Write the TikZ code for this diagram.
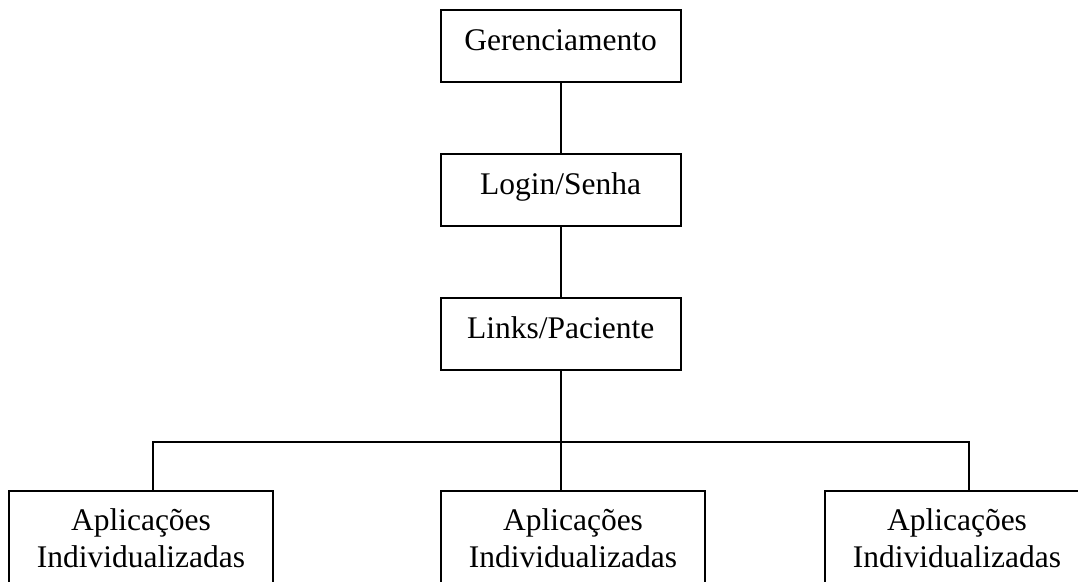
\documentclass[tikz,border=0pt]{standalone}
\usepackage{fontspec}
\setmainfont{Liberation Serif}
\begin{document}
\begin{tikzpicture}[x=1pt,y=-1pt,
  topbox/.style={draw, line width=1.8pt, minimum width=240pt, minimum height=72pt,
    inner sep=0pt, text height=22pt, text depth=13pt,
    font=\fontsize{31.5}{36.7}\selectfont},
  appbox/.style={draw, line width=1.8pt, anchor=north, inner sep=0pt,
    text width=264pt, align=center, text height=40pt, text depth=56pt,
    font=\fontsize{31.5}{36.7}\selectfont},
  link/.style={line width=1.8pt}]
\useasboundingbox (0,0) rectangle (1078,581);
\clip (0,0) rectangle (1078,581);
\node[topbox] (g) at (560.6,46) {Gerenciamento};
\node[topbox] (l) at (560.6,190) {Login/Senha};
\node[topbox] (p) at (560.6,334) {Links/Paciente};
\node[appbox] (b1) at (141,490) {Aplicações\\Individualizadas};
\node[appbox] (b2) at (573,490) {Aplicações\\Individualizadas};
\node[appbox] (b3) at (957,490) {Aplicações\\Individualizadas};
\coordinate (busL) at (153,442);
\coordinate (busR) at (969,442);
\draw[link] (g) -- (l);
\draw[link] (l) -- (p);
\draw[link] (p.south) -- (p.south |- b2.north);
\draw[link] (b1.north -| busL) -- (busL) -- (busR) -- (b3.north -| busR);
\end{tikzpicture}
\end{document}
